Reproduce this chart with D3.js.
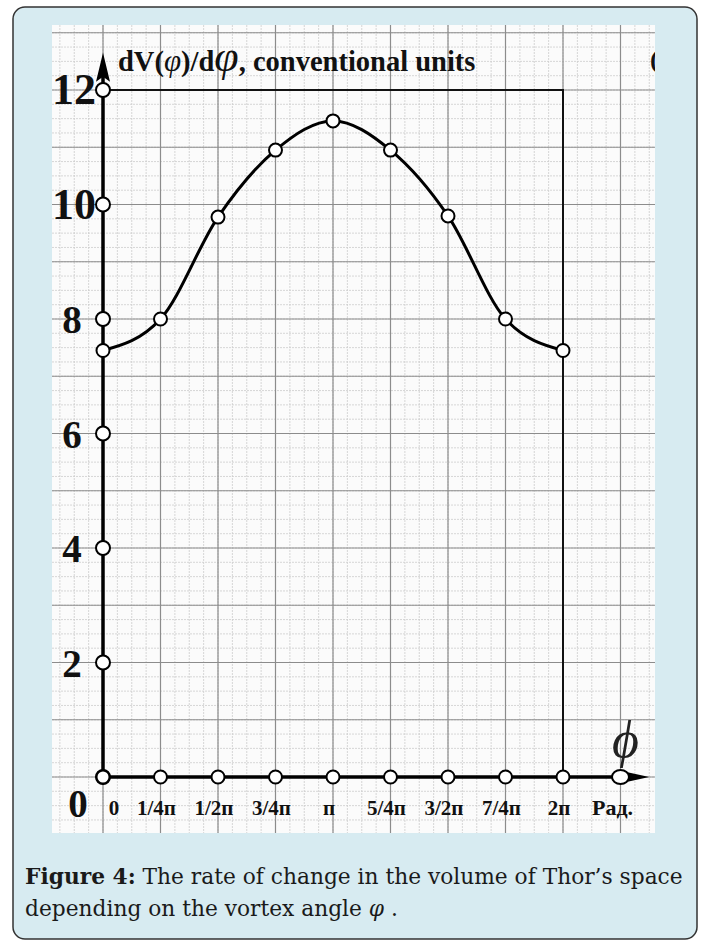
<!DOCTYPE html>
<html>
<head>
<meta charset="utf-8">
<script src="https://cdn.jsdelivr.net/npm/d3@7"></script>
<style>
  body { margin: 0; background: #fff; }
  svg { display: block; }
</style>
</head>
<body>
<svg id="chart" width="701" height="943"></svg>
<script>
// angle in quarters of pi, value in conventional units
const phiQuarter = [0, 1, 2, 3, 4, 5, 6, 7, 8];
const rate = [7.45, 8.0, 9.78, 10.95, 11.46, 10.95, 9.8, 8.0, 7.45];

const xTickLabels = ['0', '1/4п', '1/2п', '3/4п', 'п', '5/4п', '3/2п', '7/4п', '2п'];
const yTicks = [0, 2, 4, 6, 8, 10, 12];
const xUnit = 'Рад.';
const yTitle = ['dV(', 'φ', ')/d', 'φ', ', conventional units'];
const captionBold = 'Figure 4:';
const captionLine1 = ' The rate of change in the volume of Thor’s space';
const captionLine2 = 'depending on the vortex angle ';

const svg = d3.select('#chart');

// card
svg.append('rect')
  .attr('x', 13).attr('y', 7)
  .attr('width', 684).attr('height', 932)
  .attr('rx', 12)
  .attr('fill', '#d7ebf1')
  .attr('stroke', '#333')
  .attr('stroke-width', 1.5);

// graph paper
const paper = { x: 52, y: 25, w: 603, h: 808 };
svg.append('clipPath').attr('id', 'paper-clip')
  .append('rect')
  .attr('x', paper.x).attr('y', paper.y)
  .attr('width', paper.w).attr('height', paper.h);

const g = svg.append('g').attr('clip-path', 'url(#paper-clip)');
g.append('rect')
  .attr('x', paper.x).attr('y', paper.y)
  .attr('width', paper.w).attr('height', paper.h)
  .attr('fill', '#fbfbfb');

const x = d3.scaleLinear().domain([0, 8]).range([103, 563]);
const y = d3.scaleLinear().domain([0, 12]).range([777, 90]);

// minor grid
const minorX = d3.range(-1, 10.01, 0.25);
const minorY = d3.range(-2, 13.51, 0.25);
g.append('g').selectAll('line').data(minorX).join('line')
  .attr('x1', (d) => x(d)).attr('x2', (d) => x(d))
  .attr('y1', paper.y).attr('y2', paper.y + paper.h)
  .attr('stroke', '#cdcdcd').attr('stroke-width', 0.8)
  .attr('stroke-dasharray', '2,1');
g.append('g').selectAll('line').data(minorY).join('line')
  .attr('y1', (d) => y(d)).attr('y2', (d) => y(d))
  .attr('x1', paper.x).attr('x2', paper.x + paper.w)
  .attr('stroke', '#cdcdcd').attr('stroke-width', 0.8)
  .attr('stroke-dasharray', '2,1');

// major grid
g.append('g').selectAll('line').data(d3.range(-1, 11)).join('line')
  .attr('x1', (d) => x(d)).attr('x2', (d) => x(d))
  .attr('y1', paper.y).attr('y2', paper.y + paper.h)
  .attr('stroke', '#8c8c8c').attr('stroke-width', 1.2);
g.append('g').selectAll('line').data(d3.range(-2, 14)).join('line')
  .attr('y1', (d) => y(d)).attr('y2', (d) => y(d))
  .attr('x1', paper.x).attr('x2', paper.x + paper.w)
  .attr('stroke', '#8c8c8c').attr('stroke-width', 1.2);

// frame at 12 and 2pi
g.append('path')
  .attr('d', `M${x(0)},${y(12)}H${x(8)}V${y(0)}`)
  .attr('fill', 'none')
  .attr('stroke', '#111')
  .attr('stroke-width', 2);

// axes
const yTop = 12.65;
const xEnd = 9.5;
g.append('line')
  .attr('x1', x(0)).attr('x2', x(0))
  .attr('y1', y(0)).attr('y2', y(yTop) + 20)
  .attr('stroke', '#000').attr('stroke-width', 3.5);
g.append('line')
  .attr('x1', x(0)).attr('x2', x(xEnd) - 20)
  .attr('y1', y(0)).attr('y2', y(0))
  .attr('stroke', '#000').attr('stroke-width', 3.5);

// arrow heads
g.append('path')
  .attr('d', `M${x(0)},${y(yTop)}L${x(0) + 7},${y(yTop) + 29}L${x(0)},${y(yTop) + 24}L${x(0) - 7},${y(yTop) + 29}Z`)
  .attr('fill', '#000');
g.append('path')
  .attr('d', `M${x(xEnd)},${y(0)}L${x(xEnd) - 32},${y(0) - 7}L${x(xEnd) - 27},${y(0)}L${x(xEnd) - 32},${y(0) + 7}Z`)
  .attr('fill', '#000');

// curve
const line = d3.line()
  .x((d, i) => x(phiQuarter[i]))
  .y((d) => y(d))
  .curve(d3.curveMonotoneX);

g.append('path')
  .attr('d', line(rate))
  .attr('fill', 'none')
  .attr('stroke', '#000')
  .attr('stroke-width', 3);

// circles on axes
g.append('g').selectAll('circle').data(yTicks).join('circle')
  .attr('cx', x(0)).attr('cy', (d) => y(d))
  .attr('r', 7)
  .attr('fill', '#fff').attr('stroke', '#000').attr('stroke-width', 2);
g.append('g').selectAll('circle').data(phiQuarter).join('circle')
  .attr('cx', (d) => x(d)).attr('cy', y(0))
  .attr('r', 6.5)
  .attr('fill', '#fff').attr('stroke', '#000').attr('stroke-width', 2);
g.append('ellipse')
  .attr('cx', x(9)).attr('cy', y(0))
  .attr('rx', 8.5).attr('ry', 7)
  .attr('fill', '#fff').attr('stroke', '#000').attr('stroke-width', 2);

// points on curve
g.append('g').selectAll('circle').data(rate).join('circle')
  .attr('cx', (d, i) => x(phiQuarter[i])).attr('cy', (d) => y(d))
  .attr('r', 6.5)
  .attr('fill', '#fff').attr('stroke', '#000').attr('stroke-width', 2);

// y tick labels
g.append('g').selectAll('text').data(yTicks.filter((d) => d > 0)).join('text')
  .attr('x', (d) => (d >= 10 ? x(0) - 7 : x(0) - 31))
  .attr('y', (d) => y(d) + 14)
  .attr('text-anchor', (d) => (d >= 10 ? 'end' : 'middle'))
  .attr('font-family', 'Liberation Serif, serif')
  .attr('font-weight', 'bold')
  .attr('font-size', (d) => (d >= 10 ? 44 : 39))
  .attr('fill', '#111')
  .text((d) => d);
g.append('text')
  .attr('x', x(0) - 25).attr('y', y(0) + 40)
  .attr('text-anchor', 'middle')
  .attr('font-family', 'Liberation Serif, serif')
  .attr('font-weight', 'bold')
  .attr('font-size', 39)
  .attr('fill', '#111')
  .text('0');

// x tick labels
g.append('g').selectAll('text').data(xTickLabels).join('text')
  .attr('x', (d, i) => x(phiQuarter[i]) + (i === 0 ? 11 : -4))
  .attr('y', y(0) + 38)
  .attr('text-anchor', 'middle')
  .attr('font-family', 'Liberation Serif, serif')
  .attr('font-weight', 'bold')
  .attr('font-size', 21)
  .attr('fill', '#111')
  .text((d) => d);
g.append('text')
  .attr('x', x(9) - 8).attr('y', y(0) + 38)
  .attr('text-anchor', 'middle')
  .attr('font-family', 'Liberation Serif, serif')
  .attr('font-weight', 'bold')
  .attr('font-size', 22)
  .attr('fill', '#111')
  .text(xUnit);

// x axis symbol
g.append('text')
  .attr('x', x(9) + 5).attr('y', y(0) - 20)
  .attr('text-anchor', 'middle')
  .attr('font-family', 'Liberation Serif, serif')
  .attr('font-style', 'italic')
  .attr('font-size', 52)
  .attr('fill', '#222')
  .text('ϕ');

// y axis title
const title = g.append('text')
  .attr('x', x(0) + 15).attr('y', 71)
  .attr('font-family', 'Liberation Serif, serif')
  .attr('font-weight', 'bold')
  .attr('font-size', 28.5)
  .attr('fill', '#111');
yTitle.forEach((t, i) => {
  const sp = title.append('tspan').text(t);
  if (t === 'φ') {
    sp.attr('font-style', 'italic').attr('font-weight', 'normal')
      .attr('font-size', i === 1 ? 31 : 44);
  }
});
g.append('text')
  .attr('x', 650).attr('y', 68)
  .attr('font-family', 'Liberation Serif, serif')
  .attr('font-weight', 'bold')
  .attr('font-size', 26)
  .attr('fill', '#111')
  .text('(');

// caption
const cap1 = svg.append('text')
  .attr('x', 25).attr('y', 884)
  .attr('font-family', 'DejaVu Serif, serif')
  .attr('font-size', 20)
  .attr('fill', '#1a1a1a');
cap1.append('tspan').attr('font-weight', 'bold').text(captionBold);
cap1.append('tspan').text(captionLine1);

const cap2 = svg.append('text')
  .attr('x', 25).attr('y', 916)
  .attr('font-family', 'DejaVu Serif, serif')
  .attr('font-size', 20)
  .attr('fill', '#1a1a1a');
cap2.append('tspan').text(captionLine2);
cap2.append('tspan').attr('font-style', 'italic').text(' φ');
cap2.append('tspan').text(' .');

// fit caption width to the card
const w1 = cap1.node().getComputedTextLength();
const fs = 20 * 658 / w1;
cap1.attr('font-size', fs);
cap2.attr('font-size', fs);
</script>
</body>
</html>
